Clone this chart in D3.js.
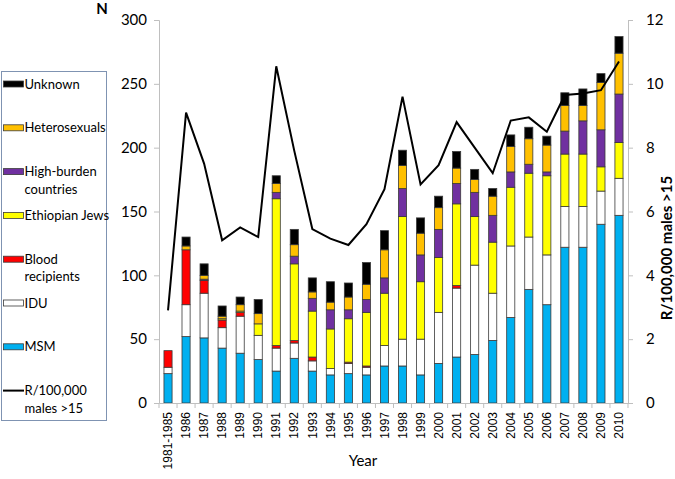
<!DOCTYPE html>
<html><head><meta charset="utf-8">
<script src="https://cdn.jsdelivr.net/npm/d3@7"></script>
<style>
html,body{margin:0;padding:0;background:#fff;}
svg{display:block;}
</style></head>
<body>
<svg id="chart" width="675" height="479"></svg>
<script>
const categories = ["1981-1985","1986","1987","1988","1989","1990","1991","1992","1993","1994","1995","1996","1997","1998","1999","2000","2001","2002","2003","2004","2005","2006","2007","2008","2009","2010"];
const msm       = [23,52,51,43,39,34,25,35,25,22,23,22,29,29,22,31,36,38,49,67,89,77,122,122,140,147];
const idu       = [5,25,35,16,29,19,18,12,8,5,8,6,16,21,28,40,54,70,37,56,41,39,32,32,26,29];
const blood     = [13,43,10,6,3,0,2,2,3,0,1,1,0,0,0,0,2,0,0,0,0,0,0,0,0,0];
const ethiopian = [0,0,0,1,1,9,115,60,36,31,34,42,41,96,45,43,64,38,40,46,50,62,41,41,19,28];
const highBurden= [0,0,1,0,0,0,5,6,10,15,7,10,12,22,21,22,16,19,21,12,7,3,18,26,29,38];
const hetero    = [0,3,3,2,5,8,7,9,5,6,10,12,22,18,17,17,12,10,15,20,20,21,20,12,37,32];
const unknown   = [0,7,9,8,6,11,6,12,11,16,11,17,15,12,12,9,13,8,6,9,9,7,10,13,7,13];
const rate      = [2.9,9.1,7.5,5.1,5.5,5.2,10.55,7.9,5.45,5.15,4.95,5.6,6.7,9.6,6.85,7.45,8.8,8.0,7.2,8.85,8.95,8.5,9.65,9.7,9.8,10.7];

const seriesNames = ["MSM","IDU","Blood recipients","Ethiopian Jews","High-burden countries","Heterosexuals","Unknown"];
const seriesColors = ["#00b0f0","#ffffff","#ff0000","#ffff00","#7030a0","#ffc000","#000000"];
const seriesValues = [msm, idu, blood, ethiopian, highBurden, hetero, unknown];
const leftTicks = [0,50,100,150,200,250,300];
const rightTicks = [0,2,4,6,8,10,12];

const legendItems = [
  {lines:["Unknown"], color:"#000000"},
  {lines:["Heterosexuals"], color:"#ffc000"},
  {lines:["High-burden","countries"], color:"#7030a0"},
  {lines:["Ethiopian Jews"], color:"#ffff00"},
  {lines:["Blood","recipients"], color:"#ff0000"},
  {lines:["IDU"], color:"#ffffff"},
  {lines:["MSM"], color:"#00b0f0"},
  {lines:["R/100,000","males >15"], color:null}
];

const svg = d3.select("#chart");
const X0 = 159, X1 = 628, Y0 = 403, Y1 = 20;
const axisColor = "#bfbfbf";
const font = "Lato, 'Open Sans', sans-serif";

const x = d3.scaleBand().domain(categories).range([X0, X1]).paddingInner(0.55).paddingOuter(0.275);
const y = d3.scaleLinear().domain([0,300]).range([Y0, Y1]);
const yR = d3.scaleLinear().domain([0,12]).range([Y0, Y1]);

// stacked data
const table = categories.map((c,i) => {
  const o = {cat:c};
  seriesNames.forEach((s,j)=> o[s] = seriesValues[j][i]);
  return o;
});
const stack = d3.stack().keys(seriesNames)(table);

// bars
stack.forEach((layer, j) => {
  svg.append("g").selectAll("rect").data(layer.filter(d => d[1]-d[0] > 0)).join("rect")
    .attr("x", d => x(d.data.cat))
    .attr("width", x.bandwidth())
    .attr("y", d => y(d[1]))
    .attr("height", d => y(d[0]) - y(d[1]))
    .attr("fill", seriesColors[j])
    .attr("stroke", "#3a3a3a")
    .attr("stroke-width", 0.8);
});

// left axis
const gL = svg.append("g").attr("transform", `translate(${X0},0)`)
  .call(d3.axisLeft(y).tickValues(leftTicks).tickSize(5).tickPadding(7));
gL.select(".domain").attr("stroke", axisColor);
gL.selectAll(".tick line").attr("stroke", axisColor);
gL.selectAll(".tick text").attr("font-family", font).attr("font-size", 15).attr("fill", "#000");

// right axis
const gR = svg.append("g").attr("transform", `translate(${X1},0)`)
  .call(d3.axisRight(yR).tickValues(rightTicks).tickSize(5).tickPadding(13));
gR.select(".domain").attr("stroke", axisColor);
gR.selectAll(".tick line").attr("stroke", axisColor);
gR.selectAll(".tick text").attr("font-family", font).attr("font-size", 15).attr("fill", "#000");

// bottom axis (labels)
const gB = svg.append("g").attr("transform", `translate(0,${Y0})`)
  .call(d3.axisBottom(x).tickSize(0).tickPadding(0));
gB.select(".domain").attr("stroke", axisColor);
gB.selectAll(".tick text")
  .attr("font-family", "'Liberation Sans', Arial, sans-serif")
  .attr("font-size", 12)
  .attr("fill", "#000")
  .attr("text-anchor", "end")
  .attr("dy", "0.35em")
  .attr("transform", "translate(0,9) rotate(-90)");
// category boundary ticks
const step = x.step(), gap = step * x.paddingInner() / 2;
const boundaries = categories.map(c => x(c) - gap).concat([x(categories[categories.length-1]) + x.bandwidth() + gap]);
svg.append("g").selectAll("line").data(boundaries).join("line")
  .attr("x1", d => d).attr("x2", d => d)
  .attr("y1", Y0).attr("y2", Y0 + 5)
  .attr("stroke", axisColor);

// rate line
const line = d3.line()
  .x((d,i) => x(categories[i]) + x.bandwidth()/2)
  .y(d => yR(d));
svg.append("path").datum(rate)
  .attr("d", line).attr("fill", "none")
  .attr("stroke", "#000").attr("stroke-width", 2).attr("stroke-linejoin", "miter");

// titles
svg.append("text").attr("x", 102).attr("y", 14).attr("text-anchor", "middle")
  .attr("font-family", font).attr("font-weight", "bold").attr("font-size", 15).text("N");
svg.append("text").attr("x", 363).attr("y", 466).attr("text-anchor", "middle")
  .attr("font-family", font).attr("font-size", 15).text("Year");
svg.append("text").attr("transform", `translate(672,248) rotate(-90)`).attr("text-anchor", "middle")
  .attr("font-family", font).attr("font-weight", "bold").attr("font-size", 15).text("R/100,000 males  >15");

// legend
const lg = svg.append("g");
lg.append("rect").attr("x", 1.5).attr("y", 71.5).attr("width", 105).attr("height", 349)
  .attr("fill", "#fff").attr("stroke", "#7f93b2").attr("stroke-width", 1);
legendItems.forEach((it, i) => {
  const cy = 84 + i * 43.8;
  if (it.color) {
    lg.append("rect").attr("x", 3.5).attr("y", cy - 3).attr("width", 20).attr("height", 6)
      .attr("fill", it.color).attr("stroke", "#3a3a3a").attr("stroke-width", 0.8);
  } else {
    lg.append("line").attr("x1", 3).attr("x2", 24).attr("y1", cy).attr("y2", cy)
      .attr("stroke", "#000").attr("stroke-width", 2);
  }
  it.lines.forEach((t, k) => {
    lg.append("text").attr("x", 24.5).attr("y", cy + k * 17.5).attr("dy", "0.35em")
      .attr("font-family", font).attr("font-size", 13).attr("fill", "#000").text(t);
  });
});
</script>
</body></html>
